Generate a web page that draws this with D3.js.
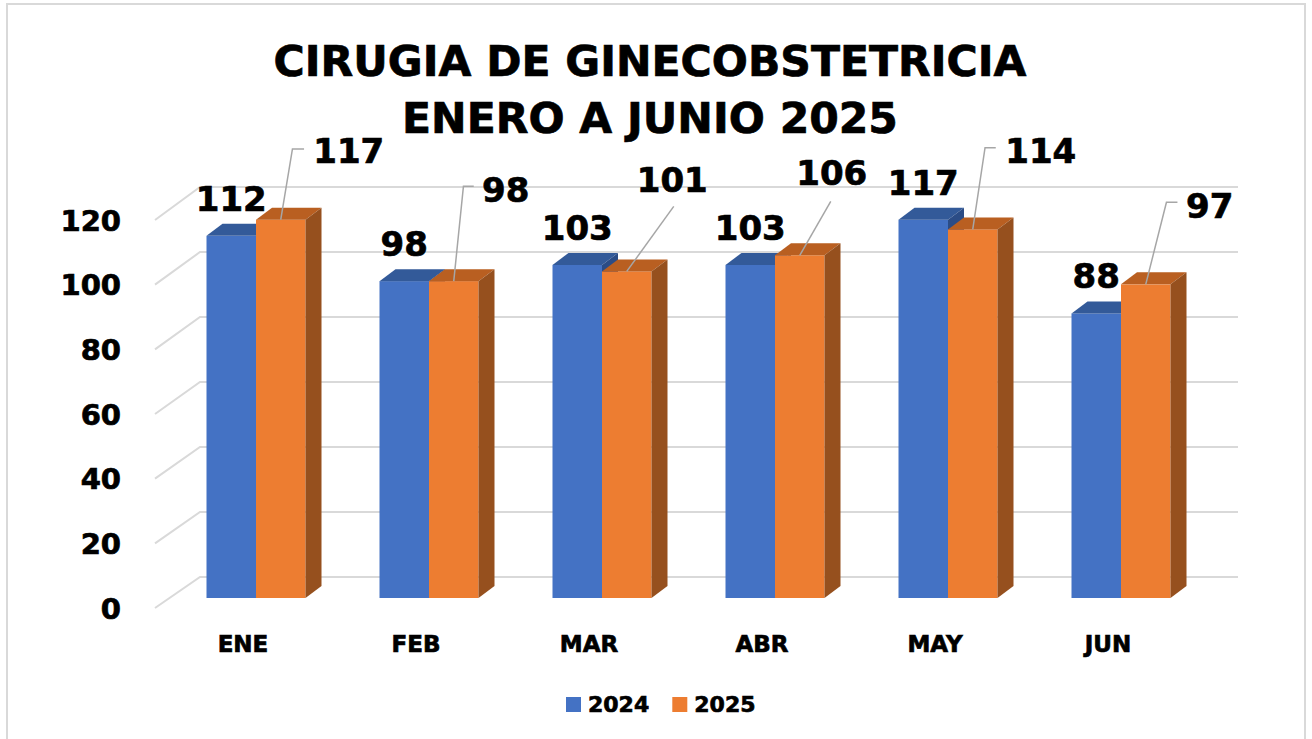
<!DOCTYPE html>
<html>
<head>
<meta charset="utf-8">
<script src="https://cdn.jsdelivr.net/npm/d3@7"></script>
<style>
body { margin: 0; background: #fff; }
text { font-family: "DejaVu Sans", sans-serif; font-weight: bold; fill: #000; stroke: #000; stroke-width: 0.7px; }
.grid { fill: none; stroke: #d9d9d9; stroke-width: 2px; }
.leader { fill: none; stroke: #a6a6a6; stroke-width: 1.5px; }
</style>
</head>
<body>
<script>

// data
var categories = ["ENE", "FEB", "MAR", "ABR", "MAY", "JUN"];
var seriesNames = ["2024", "2025"];
var values2024 = [112, 98, 103, 103, 117, 88];
var values2025 = [117, 98, 101, 106, 114, 97];
var yTicks = [0, 20, 40, 60, 80, 100, 120];
var titleLines = ["CIRUGIA DE GINECOBSTETRICIA", "ENERO A JUNIO 2025"];

// hand placed 2025 labels (offsets from the bar's front-top centre)
var label2025 = [
    {elbow: [11.7, -70.7], hlen: 11.6, text: [68, -56.7]},
    {elbow: [9.7, -95], hlen: 10.3, text: [52, -79]},
    {elbow: [47, -65], hlen: 0, text: [45.5, -79.7]},
    {elbow: [31, -54], hlen: 0, text: [32, -70]},
    {elbow: [12.3, -81.7], hlen: 10.7, text: [68, -66.7]},
    {elbow: [20.7, -82], hlen: 11, text: [64, -66]}
];

var colors = {
    "2024": {front: "#4472c4", top: "#335a99", side: "#2b4c86"},
    "2025": {front: "#ed7d31", top: "#b95f21", side: "#96501e"}
};

var width = 1312, height = 739;

var svg = d3.select("body").append("svg")
    .attr("width", width)
    .attr("height", height);

// chart frame
svg.append("rect")
    .attr("x", 7).attr("y", 4)
    .attr("width", 1298).attr("height", 760)
    .attr("fill", "#fff")
    .attr("stroke", "#d9d9d9")
    .attr("stroke-width", 2);

// front plane scales, back wall is shifted up/right
var x = d3.scaleBand().domain(categories).range([155, 1193]);
var y = d3.scaleLinear().domain([0, 120]).range([608, 220]);
var yBack = d3.scaleLinear().domain([0, 120]).range([577, 187]);
var wallDx = 45;

var barW = 49.5,
    barShift = {dx: 14.5, dy: -10},
    depth = {dx: 16, dy: -12};

var sub = d3.scaleBand().domain(seriesNames).range([0, 2 * barW]);

// gridlines
svg.selectAll(".grid")
    .data(yTicks)
    .enter().append("path")
    .attr("class", "grid")
    .attr("d", function(t) {
        return "M" + x.range()[0] + "," + y(t) +
            "L" + (x.range()[0] + wallDx) + "," + yBack(t) +
            "L" + (x.range()[1] + wallDx) + "," + yBack(t);
    });

// tick labels
svg.selectAll(".tick")
    .data(yTicks)
    .enter().append("text")
    .attr("class", "tick")
    .attr("x", 121)
    .attr("y", function(t) { return y(t) + 10.5; })
    .attr("text-anchor", "end")
    .style("font-size", "29px")
    .text(function(t) { return t; });

// bars
var bars = [];
categories.forEach(function(c, i) {
    [values2024[i], values2025[i]].forEach(function(v, j) {
        var s = seriesNames[j];
        var x0 = x(c) + x.bandwidth() / 2 - barW + sub(s) + barShift.dx;
        bars.push({cat: c, i: i, series: s, value: v, x0: x0,
            yTop: y(v) + barShift.dy, yBot: y(0) + barShift.dy});
    });
});

var g = svg.selectAll(".bar")
    .data(bars)
    .enter().append("g")
    .attr("class", "bar");

g.append("rect")
    .attr("x", function(d) { return d.x0; })
    .attr("y", function(d) { return d.yTop; })
    .attr("width", barW)
    .attr("height", function(d) { return d.yBot - d.yTop; })
    .attr("fill", function(d) { return colors[d.series].front; });

g.append("path")
    .attr("fill", function(d) { return colors[d.series].top; })
    .attr("d", function(d) {
        return "M" + d.x0 + "," + d.yTop +
            "L" + (d.x0 + barW) + "," + d.yTop +
            "L" + (d.x0 + barW + depth.dx) + "," + (d.yTop + depth.dy) +
            "L" + (d.x0 + depth.dx) + "," + (d.yTop + depth.dy) + "Z";
    });

g.append("path")
    .attr("fill", function(d) { return colors[d.series].side; })
    .attr("d", function(d) {
        var xr = d.x0 + barW;
        return "M" + xr + "," + d.yTop +
            "L" + (xr + depth.dx) + "," + (d.yTop + depth.dy) +
            "L" + (xr + depth.dx) + "," + (d.yBot + depth.dy) +
            "L" + xr + "," + d.yBot + "Z";
    });

// 2024 labels sit on top of the bars
svg.selectAll(".lab24")
    .data(bars.filter(function(d) { return d.series === "2024"; }))
    .enter().append("text")
    .attr("class", "lab24")
    .attr("x", function(d) { return d.x0 + barW / 2; })
    .attr("y", function(d) { return d.yTop - 25; })
    .attr("text-anchor", "middle")
    .style("font-size", "34px")
    .text(function(d) { return d.value; });

// 2025 labels with leader lines
var b25 = bars.filter(function(d) { return d.series === "2025"; });

svg.selectAll(".leader")
    .data(b25)
    .enter().append("path")
    .attr("class", "leader")
    .attr("d", function(d) {
        var l = label2025[d.i],
            cx = d.x0 + barW / 2,
            ex = cx + l.elbow[0], ey = d.yTop + l.elbow[1];
        var p = "M" + cx + "," + d.yTop + "L" + ex + "," + ey;
        if (l.hlen) p += "L" + (ex + l.hlen) + "," + ey;
        return p;
    });

svg.selectAll(".lab25")
    .data(b25)
    .enter().append("text")
    .attr("class", "lab25")
    .attr("x", function(d) { return d.x0 + barW / 2 + label2025[d.i].text[0]; })
    .attr("y", function(d) { return d.yTop + label2025[d.i].text[1]; })
    .attr("text-anchor", "middle")
    .style("font-size", "34px")
    .text(function(d) { return d.value; });

// category labels
svg.selectAll(".cat")
    .data(categories)
    .enter().append("text")
    .attr("class", "cat")
    .attr("x", function(c) { return x(c) + x.bandwidth() / 2 + 1.5; })
    .attr("y", 652)
    .attr("text-anchor", "middle")
    .style("font-size", "23px")
    .text(function(c) { return c; });

// title
svg.selectAll(".title")
    .data(titleLines)
    .enter().append("text")
    .attr("class", "title")
    .attr("x", 650)
    .attr("y", function(d, i) { return 76 + i * 57; })
    .attr("text-anchor", "middle")
    .style("font-size", "42.5px")
    .text(function(d) { return d; });

// legend
var legend = svg.selectAll(".legend")
    .data(seriesNames)
    .enter().append("g")
    .attr("class", "legend")
    .attr("transform", function(d, i) { return "translate(" + (566 + i * 106.3) + ",697)"; });

legend.append("rect")
    .attr("width", 15).attr("height", 15)
    .attr("fill", function(d) { return colors[d].front; });

legend.append("text")
    .attr("x", 22)
    .attr("y", 15)
    .style("font-size", "22px")
    .text(function(d) { return d; });

</script>
</body>
</html>
